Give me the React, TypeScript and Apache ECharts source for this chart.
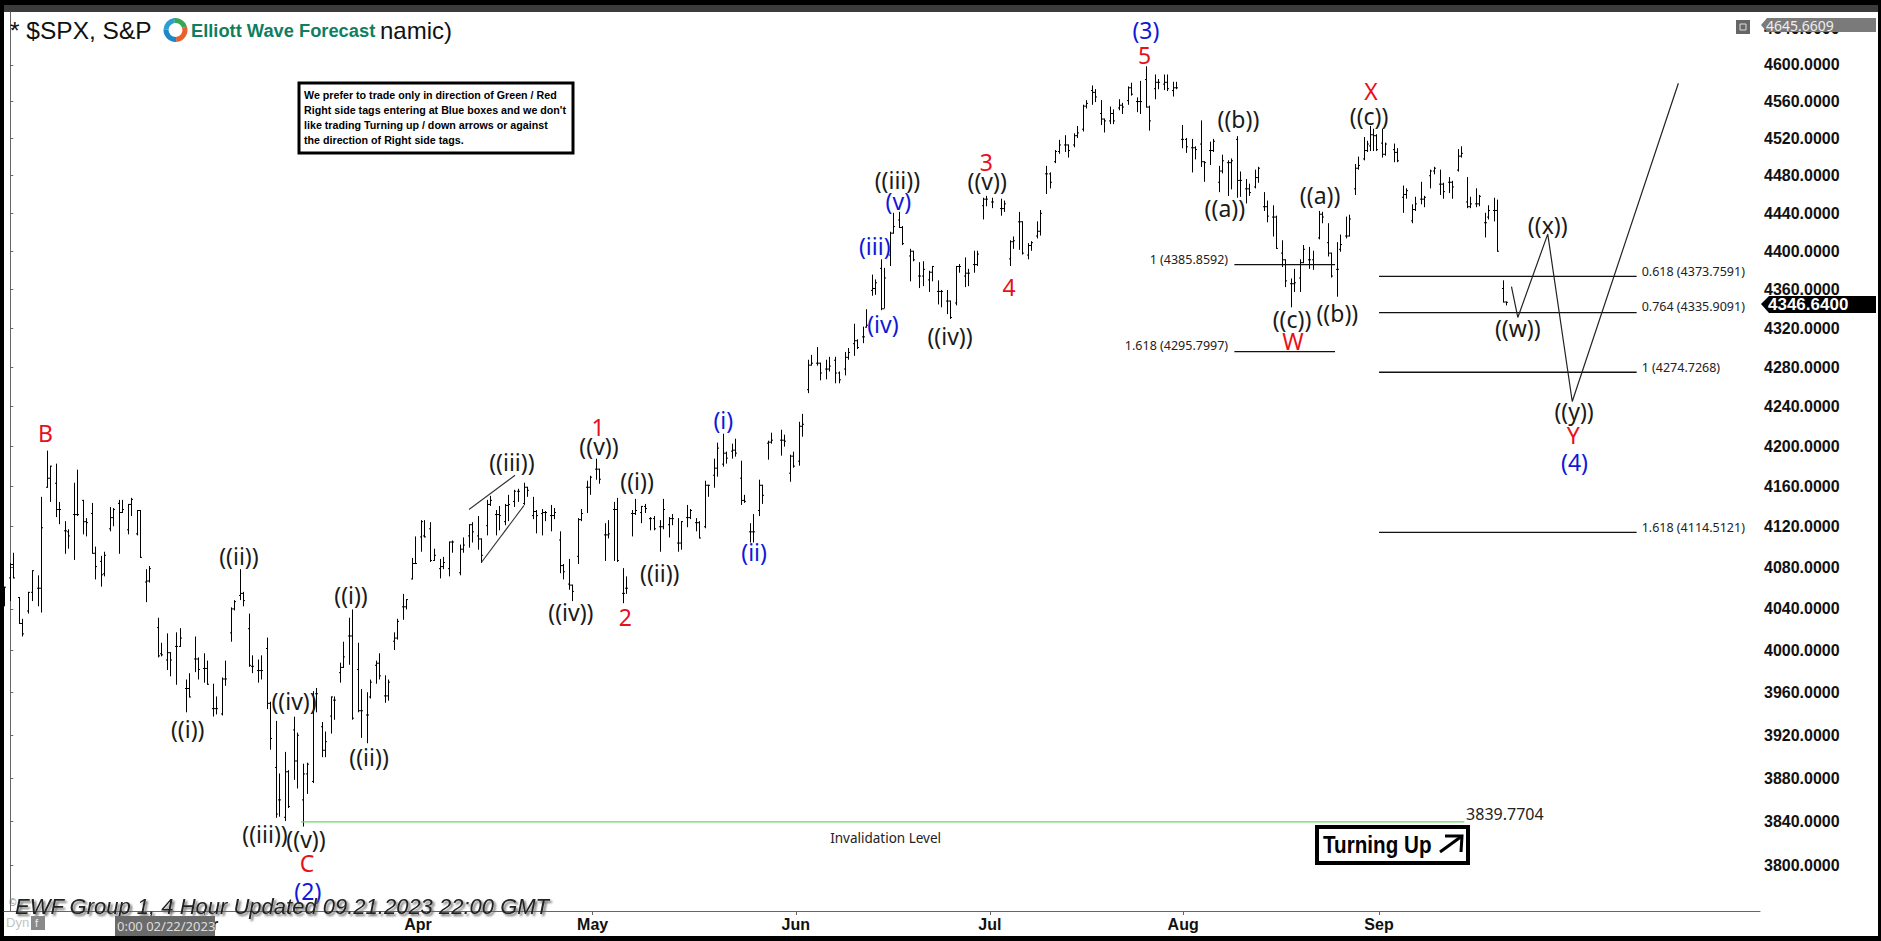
import React, { useEffect, useRef } from "react";
import * as echarts from "echarts";

type Bar = number[] | null;

const run1Start = -1;
const run1Bars: Bar[] = [
  null, [4050, 4061, 4043, 4061],
  [4070, 4084, 4048, 4083], [4083, 4094, 4070, 4070],
  [4051, 4051, 4026, 4026], [4026, 4030, 4014, 4016],
  [4038, 4056, 4036, 4056], [4056, 4077, 4048, 4077],
  [4060, 4072, 4043, 4060], [4060, 4149, 4037, 4119],
  [4159, 4195, 4159, 4168], [4168, 4180, 4145, 4180],
  [4163, 4182, 4130, 4137], [4137, 4144, 4123, 4137],
  [4116, 4125, 4094, 4116], [4115, 4117, 4099, 4111],
  [4132, 4163, 4088, 4132], [4132, 4176, 4131, 4132],
  [4146, 4146, 4113, 4125], [4125, 4128, 4111, 4124],
  [4133, 4143, 4094, 4094], [4094, 4100, 4069, 4081],
  [4086, 4091, 4062, 4073], [4074, 4095, 4072, 4092],
  [4118, 4139, 4116, 4129], [4129, 4138, 4121, 4137],
  [4143, 4146, 4094, 4134], [4134, 4146, 4134, 4137],
  [4117, 4142, 4113, 4142], [4142, 4148, 4131, 4147],
  [4113, 4136, 4112, 4136], [4136, 4136, 4090, 4090],
  [4066, 4078, 4047, 4067], [4067, 4081, 4066, 4079],
];

const run2Start = 16.32;
const run2Bars: Bar[] = [
  [4022, 4031, 3994, 3995], [3997, 4007, 3995, 3996],
  [3991, 4016, 3982, 3998], [3998, 3998, 3976, 3991],
  [4004, 4017, 3968, 4004], [4004, 4021, 4004, 4012],
  [3964, 3972, 3942, 3964], [3964, 3978, 3956, 3956],
  [3992, 4013, 3980, 3992], [3992, 3993, 3973, 3982],
  [3983, 3997, 3970, 3983], [3983, 3990, 3968, 3968],
  [3945, 3968, 3938, 3945], [3945, 3956, 3940, 3945],
  [3940, 3974, 3939, 3973], [3973, 3990, 3967, 3973],
  [4017, 4041, 4009, 4040], [4040, 4048, 4039, 4047],
  [4053, 4078, 4049, 4055], [4055, 4056, 4043, 4048],
  [4021, 4035, 3985, 3986], [3985, 3995, 3979, 3985],
  [3981, 3991, 3970, 3981], [3981, 3995, 3973, 3981],
  [4002, 4012, 3945, 3950], [3950, 3951, 3907, 3917],
  [3890, 3933, 3844, 3847], [3860, 3884, 3845, 3860],
  [3844, 3904, 3841, 3886], [3886, 3887, 3853, 3854],
  [3925, 3937, 3879, 3896], [3896, 3922, 3871, 3920],
  [3860, 3893, 3836, 3884], [3884, 3894, 3866, 3893],
  [3877, 3961, 3876, 3945], [3959, 3964, 3942, 3959],
  [3928, 3932, 3900, 3906], [3906, 3923, 3900, 3914],
  [3938, 3956, 3922, 3956], [3953, 3956, 3935, 3953],
  [3979, 3988, 3970, 3984], [3984, 4008, 3984, 3994],
  [4014, 4031, 3987, 4014], [4014, 4039, 3935, 3936],
  [3982, 4007, 3942, 3943], [3943, 3963, 3918, 3943],
  [3939, 3960, 3913, 3939], [3956, 3972, 3955, 3970],
  [3986, 3990, 3969, 3988], [3988, 3997, 3973, 3976],
  [3957, 3976, 3951, 3957], [3957, 3972, 3953, 3970],
  [4009, 4017, 4001, 4012], [4012, 4030, 4011, 4028],
  [4042, 4054, 4030, 4042], [4042, 4049, 4040, 4049],
  [4069, 4089, 4069, 4084], [4084, 4110, 4084, 4084],
  [4110, 4126, 4096, 4125], [4111, 4126, 4110, 4110],
  [4118, 4124, 4086, 4087], [4087, 4098, 4087, 4092],
  [4079, 4088, 4070, 4081], [4081, 4090, 4079, 4085],
  [4079, 4105, 4072, 4105], [4105, 4106, 4095, 4105],
];

const run3Start = 49.58;
const run3Bars: Bar[] = [
  [4075, 4102, 4073, 4098], [4098, 4109, 4095, 4102],
  [4111, 4122, 4100, 4122], [4122, 4124, 4105, 4115],
  [4111, 4130, 4098, 4108], [4108, 4108, 4085, 4092],
  [4121, 4146, 4112, 4142], [4142, 4150, 4141, 4146],
  [4132, 4136, 4112, 4132], [4132, 4140, 4117, 4131],
  [4125, 4142, 4122, 4141], [4141, 4151, 4126, 4142],
  [4145, 4156, 4140, 4155], [4155, 4157, 4145, 4155],
  [4143, 4163, 4142, 4159], [4159, 4159, 4150, 4156],
  [4131, 4149, 4128, 4135], [4135, 4136, 4114, 4131],
  [4133, 4137, 4112, 4134], [4134, 4135, 4126, 4134],
  [4131, 4141, 4116, 4131], [4131, 4138, 4128, 4134],
  [4107, 4115, 4075, 4082], [4082, 4083, 4069, 4076],
  [4064, 4088, 4059, 4063], [4063, 4063, 4048, 4057],
  [4091, 4128, 4084, 4127], [4127, 4137, 4126, 4133],
  [4159, 4165, 4134, 4159], [4159, 4170, 4152, 4169],
  [4177, 4187, 4167, 4177], [4177, 4177, 4163, 4167],
  [4112, 4123, 4087, 4112], [4112, 4126, 4109, 4113],
  [4137, 4144, 4087, 4137], [4137, 4148, 4086, 4087],
  [4055, 4079, 4046, 4055], [4060, 4071, 4055, 4060],
  [4133, 4136, 4111, 4133], [4133, 4147, 4132, 4136],
  [4134, 4140, 4124, 4140], [4140, 4142, 4134, 4138],
  [4128, 4129, 4117, 4128], [4128, 4130, 4117, 4118],
  [4120, 4126, 4096, 4120], [4120, 4147, 4118, 4137],
  [4122, 4129, 4110, 4128], [4128, 4132, 4122, 4128],
  [4104, 4128, 4096, 4104], [4104, 4125, 4098, 4125],
  [4129, 4141, 4120, 4129], [4129, 4137, 4128, 4136],
  [4124, 4128, 4116, 4124], [4124, 4125, 4109, 4109],
  [4120, 4165, 4119, 4161], [4161, 4161, 4150, 4161],
  [4171, 4187, 4159, 4178], [4178, 4203, 4170, 4198],
  [4182, 4212, 4180, 4193], [4193, 4194, 4183, 4188],
  [4195, 4202, 4188, 4196], [4196, 4207, 4190, 4193],
  [4168, 4185, 4142, 4146], [4146, 4151, 4144, 4145],
  [4115, 4123, 4105, 4115], [4115, 4132, 4105, 4115],
  [4136, 4166, 4131, 4161], [4161, 4161, 4143, 4151],
  [4203, 4205, 4187, 4204], [4204, 4213, 4203, 4206],
];

const run4Start = 84.97;
const run4Bars: Bar[] = [
  [4206, 4216, 4191, 4206], [4206, 4211, 4200, 4205],
  [4173, 4191, 4165, 4190], [4190, 4194, 4179, 4180],
  [4185, 4224, 4181, 4220], [4220, 4232, 4210, 4222],
  [4257, 4287, 4254, 4282], [4282, 4292, 4282, 4284],
  [4284, 4300, 4282, 4284], [4284, 4284, 4267, 4274],
  [4278, 4287, 4268, 4278], [4278, 4290, 4276, 4281],
  [4287, 4290, 4264, 4274], [4274, 4275, 4264, 4267],
  [4278, 4295, 4272, 4290], [4290, 4299, 4288, 4295],
  [4304, 4324, 4292, 4307], [4307, 4308, 4299, 4300],
  [4311, 4321, 4305, 4311], [4321, 4339, 4321, 4323],
  [4359, 4375, 4354, 4361], [4361, 4370, 4355, 4367],
  [4382, 4391, 4339, 4340], [4340, 4382, 4341, 4372],
  [4396, 4420, 4385, 4419], [4419, 4440, 4419, 4426],
  [4433, 4441, 4425, 4425], [4425, 4426, 4407, 4408],
];

const run5Start = 99.23;
const run5Bars: Bar[] = [
  [4395, 4402, 4369, 4400], [4400, 4400, 4390, 4391],
  [4374, 4388, 4362, 4374], [4374, 4389, 4364, 4381],
  [4370, 4379, 4358, 4378], [4378, 4384, 4369, 4384],
  [4358, 4369, 4345, 4358], [4358, 4359, 4342, 4358],
  [4348, 4359, 4335, 4348], [4348, 4348, 4330, 4331],
  [4346, 4384, 4344, 4384], [4384, 4386, 4378, 4384],
  [4374, 4393, 4363, 4377], [4377, 4381, 4364, 4377],
  [4386, 4400, 4378, 4386], [4386, 4400, 4385, 4397],
  [4448, 4456, 4434, 4455], [4455, 4458, 4448, 4455],
  [4452, 4456, 4446, 4452], null,
  [4445, 4455, 4438, 4445], [4445, 4453, 4442, 4450],
  [4392, 4411, 4385, 4410], [4410, 4415, 4403, 4411],
  [4431, 4441, 4402, 4431], [4431, 4431, 4397, 4398],
  [4396, 4408, 4392, 4406], [4406, 4410, 4401, 4409],
  [4416, 4431, 4414, 4421], [4421, 4443, 4417, 4440],
  [4482, 4490, 4461, 4482], [4482, 4483, 4467, 4473],
  [4495, 4507, 4494, 4506], [4506, 4518, 4504, 4513],
  [4513, 4523, 4506, 4513], [4513, 4513, 4500, 4507],
  [4513, 4525, 4511, 4523], [4523, 4533, 4521, 4526],
  [4530, 4556, 4528, 4555], [4555, 4561, 4553, 4558],
  [4572, 4577, 4557, 4570], [4570, 4573, 4560, 4565],
  [4547, 4561, 4535, 4541], [4541, 4541, 4527, 4539],
  [4539, 4554, 4536, 4547], [4547, 4551, 4536, 4539],
  [4553, 4562, 4551, 4556], [4556, 4558, 4547, 4554],
  [4561, 4576, 4557, 4575], [4575, 4580, 4567, 4568],
  [4560, 4564, 4549, 4560], [4560, 4582, 4547, 4560],
  [4584, 4598, 4554, 4554], [4554, 4555, 4529, 4539],
  [4574, 4589, 4563, 4581], [4581, 4584, 4574, 4581],
  [4579, 4589, 4573, 4581], [4581, 4589, 4572, 4574],
  [4572, 4581, 4566, 4575], [4575, 4581, 4574, 4575],
  [4519, 4534, 4510, 4519], [4519, 4520, 4505, 4511],
  [4510, 4519, 4484, 4510], [4510, 4511, 4498, 4508],
  [4514, 4539, 4490, 4495], [4495, 4495, 4474, 4494],
  [4507, 4516, 4492, 4507], [4507, 4519, 4506, 4517],
  [4473, 4490, 4463, 4485], [4485, 4502, 4483, 4496],
  [4494, 4496, 4459, 4494], [4494, 4498, 4466, 4496],
  [4519, 4522, 4457, 4475], [4475, 4484, 4458, 4475],
  [4466, 4476, 4451, 4466], [4466, 4471, 4459, 4462],
  [4468, 4486, 4467, 4478], [4478, 4489, 4473, 4488],
  [4447, 4462, 4443, 4447], [4447, 4453, 4431, 4437],
  [4436, 4448, 4416, 4436], [4436, 4437, 4403, 4403],
  [4398, 4411, 4384, 4391], [4391, 4391, 4363, 4369],
  [4366, 4371, 4342, 4366], [4366, 4381, 4358, 4367],
  [4372, 4391, 4358, 4388], [4388, 4406, 4388, 4402],
  [4391, 4404, 4382, 4391], [4391, 4400, 4381, 4386],
  [4414, 4442, 4413, 4439], [4439, 4441, 4430, 4436],
  [4409, 4429, 4395, 4398], [4398, 4398, 4373, 4374],
  [4381, 4409, 4353, 4381], [4402, 4417, 4400, 4407],
  [4416, 4436, 4414, 4416], [4416, 4438, 4416, 4434],
  [4466, 4492, 4460, 4488], [4488, 4500, 4487, 4491],
  [4498, 4521, 4497, 4507], [4507, 4517, 4506, 4514],
  [4524, 4530, 4507, 4523], [4523, 4524, 4507, 4508],
  [4515, 4530, 4500, 4503], [4503, 4515, 4502, 4514],
];

const run6Start = 152.57;
const run6Bars: Bar[] = [
  [4508, 4514, 4495, 4505], [4505, 4509, 4495, 4496],
  [4457, 4469, 4441, 4460], [4460, 4466, 4456, 4464],
  [4432, 4449, 4430, 4444], [4444, 4457, 4443, 4450],
  [4455, 4473, 4450, 4455], [4455, 4458, 4447, 4457],
  [4480, 4486, 4467, 4485], [4485, 4489, 4482, 4488],
  [4471, 4486, 4460, 4471], [4471, 4472, 4456, 4463],
  [4473, 4478, 4462, 4473], [4473, 4474, 4456, 4468],
  [4486, 4508, 4485, 4501], [4501, 4511, 4500, 4504],
  [4452, 4478, 4446, 4447], [4447, 4457, 4446, 4450],
  [4450, 4466, 4447, 4450], [4450, 4459, 4448, 4458],
  [4430, 4440, 4415, 4430], [4436, 4448, 4434, 4443],
  [4443, 4456, 4432, 4443], [4443, 4454, 4400, 4400],
  [4361, 4369, 4347, 4347], [4347, 4347, 4344, 4346.64],
];

const extraBarPosition = 149.95;
const extraBar = [4512, 4533, 4507, 4524];

const priceTicks = [
  3800, 3840, 3880, 3920, 3960, 4000, 4040, 4080, 4120, 4160, 4200, 4240,
  4280, 4320, 4360, 4400, 4440, 4480, 4520, 4560, 4600, 4640,
];
const monthNames = ["Mar", "Apr", "May", "Jun", "Jul", "Aug", "Sep"];
const monthPositions = [21.36, 44.95, 64.2, 86.6, 108, 129.3, 150.9];

const BLACK = "#1a1a1a";
const RED = "#e8101c";
const BLUE = "#0f18d8";

// text, session position, price, colour
const waveLabels: [string, number, number, string][] = [
  ["B", 3.89, 4213, RED], ["((ii))", 25.2, 4091, BLACK], ["((i))", 19.56, 3926, BLACK],
  ["((iii))", 28.08, 3829, BLACK], ["((iv))", 31.28, 3952, BLACK], ["((v))", 32.6, 3824, BLACK],
  ["C", 32.7, 3802, RED], ["(2)", 32.8, 3777, BLUE], ["((i))", 37.56, 4053, BLACK],
  ["((ii))", 39.55, 3900, BLACK], ["((iii))", 55.3, 4184, BLACK], ["((v))", 64.9, 4200, BLACK],
  ["1", 64.8, 4219, RED], ["((i))", 69.1, 4165, BLACK], ["((iv))", 61.8, 4037, BLACK],
  ["2", 67.8, 4032, RED], ["((ii))", 71.6, 4075, BLACK], ["(i)", 78.6, 4226, BLUE],
  ["(ii)", 82, 4095, BLUE], ["(iv)", 96.2, 4324, BLUE], ["(iii)", 95.3, 4406, BLUE],
  ["(v)", 97.9, 4453, BLUE], ["((iii))", 97.8, 4475, BLACK], ["((iv))", 103.6, 4312, BLACK],
  ["((v))", 107.7, 4474, BLACK], ["3", 107.6, 4495, RED], ["4", 110.1, 4363, RED],
  ["5", 125.05, 4611, RED], ["(3)", 125.2, 4638, BLUE], ["((b))", 135.4, 4541, BLACK],
  ["((a))", 133.9, 4446, BLACK], ["((c))", 141.3, 4329, BLACK], ["((b))", 146.3, 4336, BLACK],
  ["W", 141.4, 4307, RED], ["((a))", 144.4, 4459, BLACK], ["((c))", 149.8, 4544, BLACK],
  ["X", 150, 4571, RED], ["((w))", 166.2, 4320, BLACK], ["((x))", 169.5, 4428, BLACK],
  ["((y))", 172.4, 4235, BLACK], ["Y", 172.3, 4211, RED], ["(4)", 172.45, 4184, BLUE],
];

// text, session position, price, alignment, size
const levelLabels: [string, number, number, string, number][] = [
  ["1 (4385.8592)", 134.26, 4391, "right", 12.5],
  ["1.618 (4295.7997)", 134.26, 4302, "right", 12.5],
  ["0.618 (4373.7591)", 179.85, 4379, "left", 12.5],
  ["0.764 (4335.9091)", 179.85, 4342.5, "left", 12.5],
  ["1 (4274.7268)", 179.85, 4280, "left", 12.5],
  ["1.618 (4114.5121)", 179.85, 4119.4, "left", 12.5],
  ["3839.7704", 160.5, 3847, "left", 16],
  ["Invalidation Level", 96.5, 3825, "center", 13.5],
];

const fibLinesLeft = [4385.8592, 4295.7997];
const fibLeftSpan = [134.95, 146.05];
const fibLinesRight = [4373.7591, 4335.9091, 4274.7268, 4114.5121];
const fibRightSpan = [150.9, 179.3];
const invalidationPrice = 3839.7704;
const invalidationSpan = [32.05, 160.3];

const projectionPath = [
  [165.5, 4363], [166.2, 4331], [169.5, 4418], [172.2, 4245], [183.9, 4580],
];
const channelUpper = [[50.57, 4137], [55.65, 4171]];
const channelLower = [[51.93, 4085], [56.64, 4141]];

const noticeText =
  "We prefer to trade only in direction of Green / Red\nRight side tags entering at Blue boxes and we don't\nlike trading Turning up / down arrows or against\nthe direction of Right side tags.";

const lg = (p: number) => Math.log10(p);
const SECOND_SLOT = 0.34;

function expand(start: number, rows: Bar[]) {
  const out: number[][] = [];
  rows.forEach((r, i) => {
    if (!r) return;
    const pos = start + Math.floor(i / 2) + (i % 2) * SECOND_SLOT;
    out.push([pos, lg(r[0]), lg(r[1]), lg(r[2]), lg(r[3])]);
  });
  return out;
}

const ohlcData = [
  ...expand(run1Start, run1Bars),
  ...expand(run2Start, run2Bars),
  ...expand(run3Start, run3Bars),
  ...expand(run4Start, run4Bars),
  ...expand(run5Start, run5Bars),
  ...expand(run6Start, run6Bars),
  [extraBarPosition, ...extraBar.map(lg)],
];

function lineSeries(points: number[][], color: string, width: number) {
  return {
    type: "line",
    data: points.map((p) => [p[0], lg(p[1])]),
    showSymbol: false,
    symbol: "none",
    silent: true,
    clip: false,
    z: 3,
    lineStyle: { color, width },
  };
}

const SANS = "'Noto Sans', sans-serif";
const ARIAL = "'Liberation Sans', Arial, sans-serif";

function buildOption() {
  const series: any[] = [
    {
      type: "custom",
      data: ohlcData,
      clip: true,
      silent: true,
      z: 2,
      encode: { x: 0, y: [1, 2, 3, 4] },
      renderItem: (_: any, api: any) => {
        const pos = api.value(0);
        const pO = api.coord([pos, api.value(1)]);
        const pH = api.coord([pos, api.value(2)]);
        const pL = api.coord([pos, api.value(3)]);
        const pC = api.coord([pos, api.value(4)]);
        const x = Math.round(pO[0]) + 0.5;
        const st = { stroke: "#000", lineWidth: 1, fill: "none" };
        return {
          type: "group",
          children: [
            { type: "line", shape: { x1: x, y1: pH[1] - 0.5, x2: x, y2: pL[1] + 0.5 }, style: st },
            { type: "line", shape: { x1: x - 1.5, y1: pO[1], x2: x, y2: pO[1] }, style: st },
            { type: "line", shape: { x1: x, y1: pC[1], x2: x + 1.5, y2: pC[1] }, style: st },
          ],
        };
      },
    },
    ...fibLinesLeft.map((p) =>
      lineSeries([[fibLeftSpan[0], p], [fibLeftSpan[1], p]], "#111", 1.3)
    ),
    ...fibLinesRight.map((p) =>
      lineSeries([[fibRightSpan[0], p], [fibRightSpan[1], p]], "#111", 1.3)
    ),
    lineSeries(
      [[invalidationSpan[0], invalidationPrice], [invalidationSpan[1], invalidationPrice]],
      "#62dc62",
      1.4
    ),
    lineSeries(projectionPath, "#222", 1.2),
    lineSeries(channelUpper, "#333", 1.1),
    lineSeries(channelLower, "#333", 1.1),
    {
      type: "custom",
      data: waveLabels.map((l) => [l[1], lg(l[2])]),
      clip: false,
      silent: true,
      z: 4,
      encode: { x: 0, y: 1 },
      renderItem: (params: any, api: any) => {
        const l = waveLabels[params.dataIndex];
        const c = api.coord([api.value(0), api.value(1)]);
        return {
          type: "text",
          x: c[0],
          y: c[1],
          style: {
            text: l[0],
            fill: l[3],
            fontSize: 23,
            fontFamily: SANS,
            align: "center",
            verticalAlign: "middle",
            textAlign: "center",
            textVerticalAlign: "middle",
          },
        };
      },
    },
    {
      type: "custom",
      data: levelLabels.map((l) => [l[1], lg(l[2])]),
      clip: false,
      silent: true,
      z: 4,
      encode: { x: 0, y: 1 },
      renderItem: (params: any, api: any) => {
        const l = levelLabels[params.dataIndex];
        const c = api.coord([api.value(0), api.value(1)]);
        return {
          type: "text",
          x: c[0],
          y: c[1],
          style: {
            text: l[0],
            fill: "#222",
            fontSize: l[4],
            fontFamily: SANS,
            align: l[3],
            verticalAlign: "middle",
            textAlign: l[3],
            textVerticalAlign: "middle",
          },
        };
      },
    },
  ];

  const over = 50;
  const txt = (text: string, x: number, y: number, style: any) => ({
    type: "text",
    x,
    y,
    z: over,
    silent: true,
    style: { text, textVerticalAlign: "middle", verticalAlign: "middle", ...style },
  });
  const rect = (x: number, y: number, width: number, height: number, style: any, z = over) => ({
    type: "rect",
    z,
    silent: true,
    shape: { x, y, width, height },
    style,
  });
  const arc = (r: number, a: number, b: number, color: string) => ({
    type: "arc",
    z: over,
    silent: true,
    shape: { cx: 175.5, cy: 30, r, startAngle: a, endAngle: b },
    style: { stroke: color, lineWidth: 5, fill: "none" },
  });

  const graphic: any[] = [
    rect(4, 12, 1874, 924, { fill: "#fff" }, -10),
    rect(4, 5, 1874, 7, { fill: "#3c3c3c" }, -10),
    txt("* $SPX, S&P", 10, 30, { fill: "#111", fontSize: 24.5, fontFamily: ARIAL }),
    txt("namic)", 380, 30, { fill: "#111", fontSize: 24, fontFamily: ARIAL }),
    arc(9.5, -1.7, -0.3, "#3aa655"),
    arc(9.5, -0.3, 1.5, "#e8602c"),
    arc(9.5, 1.5, 3.2, "#1f86c8"),
    arc(9.5, 3.2, 4.6, "#2a9fd0"),
    txt("Elliott Wave Forecast", 191, 30, {
      fill: "#0e7f5f",
      fontSize: 18.3,
      fontWeight: "bold",
      fontFamily: ARIAL,
    }),
    rect(299, 83, 274, 70, { fill: "#fff", stroke: "#000", lineWidth: 3 }),
    {
      type: "text",
      x: 304,
      y: 87,
      z: over,
      silent: true,
      scaleX: 0.93,
      style: {
        text: noticeText,
        fill: "#000",
        fontSize: 11.5,
        fontWeight: "bold",
        fontFamily: ARIAL,
        lineHeight: 15,
      },
    },
    rect(1736, 20, 14, 14, { fill: "#666" }),
    rect(1740, 24, 6, 6, { fill: "none", stroke: "#ddd", lineWidth: 1 }),
    {
      type: "polygon",
      z: over,
      silent: true,
      shape: { points: [[1761, 25], [1767, 18], [1876, 18], [1876, 32], [1767, 32]] },
      style: { fill: "#7a7a7a" },
    },
    txt("4645.6609", 1766, 25.5, { fill: "#eee", fontSize: 14, fontFamily: SANS }),
    {
      type: "polygon",
      z: over,
      silent: true,
      shape: { points: [[1761, 304], [1769, 296], [1876, 296], [1876, 313], [1769, 313]] },
      style: { fill: "#000" },
    },
    txt("4346.6400", 1768, 304.5, {
      fill: "#fff",
      fontSize: 17,
      fontWeight: "bold",
      fontFamily: ARIAL,
    }),
    rect(1317, 827, 151, 36, { fill: "#fff", stroke: "#000", lineWidth: 4 }),
    {
      type: "text",
      x: 1323,
      y: 845,
      z: over,
      silent: true,
      scaleX: 0.86,
      style: {
        text: "Turning Up",
        fill: "#000",
        fontSize: 24,
        fontWeight: "bold",
        fontFamily: ARIAL,
        textVerticalAlign: "middle",
        verticalAlign: "middle",
      },
    },
    {
      type: "polyline",
      z: over,
      silent: true,
      shape: { points: [[1440, 852], [1462, 836]] },
      style: { stroke: "#000", lineWidth: 3, fill: "none" },
    },
    {
      type: "polyline",
      z: over,
      silent: true,
      shape: { points: [[1445, 836], [1462, 836], [1461, 852]] },
      style: { stroke: "#000", lineWidth: 3, fill: "none" },
    },
    txt("©", 9, 902, { fill: "#888", fontSize: 10, fontFamily: ARIAL }),
    txt("EWF Group 1, 4 Hour Updated 09.21.2023 22:00 GMT", 15, 906, {
      fill: "#222",
      fontSize: 22,
      fontStyle: "italic",
      fontFamily: ARIAL,
      textShadowColor: "#666",
      textShadowBlur: 2,
      textShadowOffsetX: 2,
      textShadowOffsetY: 2,
    }),
    txt("Dyn", 6, 922, { fill: "#c4c4c4", fontSize: 13, fontFamily: ARIAL }),
    rect(31, 916, 14, 14, { fill: "#8a8a8a" }),
    txt("f", 35, 923, { fill: "#eee", fontSize: 11, fontFamily: ARIAL }),
    rect(115, 916, 100, 20, { fill: "#6a6a6a" }),
    txt("0:00 02/22/2023", 117, 926, { fill: "#ddd", fontSize: 13, fontFamily: SANS }),
  ];

  return {
    animation: false,
    backgroundColor: "#000",
    grid: { left: 4, top: 12, width: 1756, height: 899, containLabel: false },
    xAxis: {
      type: "value",
      min: -0.695,
      max: 192.9,
      splitLine: { show: false },
      axisLine: { show: true, lineStyle: { color: "#666", width: 1 } },
      axisTick: {
        show: true,
        length: 4,
        lineStyle: { color: "#666" },
        customValues: monthPositions,
      },
      axisLabel: {
        show: true,
        customValues: monthPositions,
        margin: 5,
        color: "#111",
        fontSize: 16,
        fontWeight: "bold",
        fontFamily: ARIAL,
        formatter: (v: number) => monthNames[monthPositions.indexOf(v)] ?? "",
      },
    },
    yAxis: {
      type: "value",
      position: "right",
      min: lg(3759),
      max: lg(4658.5),
      splitLine: { show: false },
      axisLine: { show: true, lineStyle: { color: "#666", width: 1 } },
      axisTick: {
        show: true,
        length: 3,
        lineStyle: { color: "#666" },
        customValues: priceTicks.map(lg),
      },
      axisLabel: {
        show: true,
        customValues: priceTicks.map(lg),
        margin: 4,
        color: "#111",
        fontSize: 16,
        fontWeight: "bold",
        fontFamily: ARIAL,
        formatter: (v: number) => Math.pow(10, v).toFixed(4),
      },
    },
    series,
    graphic: { elements: graphic },
  };
}

export default function App() {
  const ref = useRef<HTMLDivElement>(null);
  useEffect(() => {
    document.body.style.margin = "0";
    document.body.style.overflow = "hidden";
    const chart = echarts.init(ref.current!, undefined, { renderer: "svg" });
    chart.setOption(buildOption() as any);
    return () => chart.dispose();
  }, []);
  return <div ref={ref} style={{ width: 1881, height: 941 }} />;
}
